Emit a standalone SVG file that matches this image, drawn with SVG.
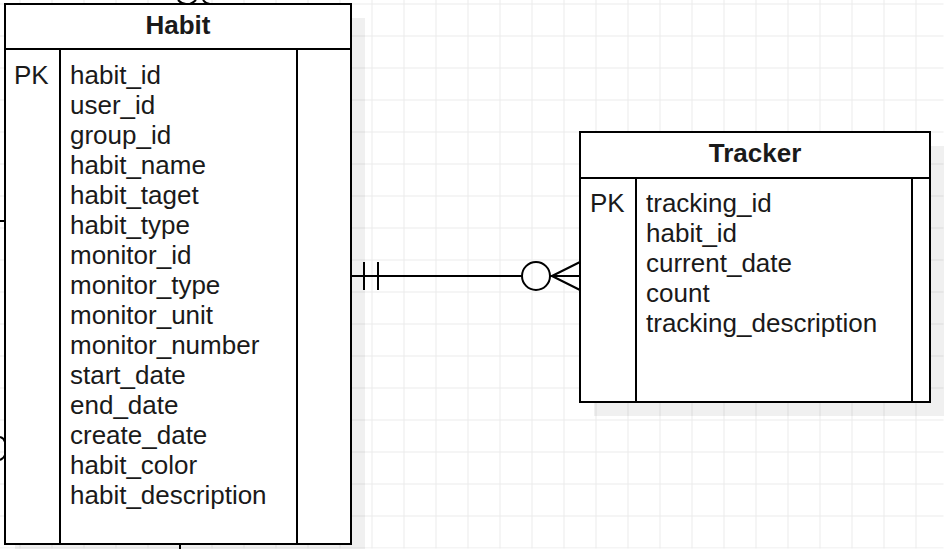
<svg xmlns="http://www.w3.org/2000/svg" width="944" height="549" viewBox="0 0 944 549">
<defs>
<pattern id="grid" x="20" y="4" width="32" height="32" patternUnits="userSpaceOnUse">
<path d="M0.5 0 V32 M0 0.5 H32" fill="none" stroke="#ebebeb" stroke-width="1"/>
</pattern>
</defs>
<style>
.box{fill:#fff;stroke:#000;stroke-width:2}
.ln{stroke:#000;stroke-width:2;fill:none}
.sh{fill:#000;fill-opacity:0.06}
.t{font-family:"Liberation Sans",Arial,sans-serif;font-size:26px;fill:#1a1a1a}
.h{font-family:"Liberation Sans",Arial,sans-serif;font-size:26px;font-weight:bold;fill:#1a1a1a}
</style>
<rect width="944" height="549" fill="#fff"/>
<rect x="0" y="0" width="944" height="549" fill="url(#grid)" transform="translate(-0.5,-0.5)"/>
<g id="edges">
<path class="ln" d="M0 221 H5"/>
<path class="ln" d="M0 437 Q4 438 5 442 M0 460 Q4 458 5 455"/>
<path class="ln" d="M180 544 V549"/>
<path class="ln" d="M178 0 Q182 4 186 4 M190 4 Q194 2 196 0 M203 0 Q206 4 210 4"/>
<path class="ln" d="M351 276 H522 M550 276 H580 M364 262 V290 M378 262 V290 M552 276 L580 262 M552 276 L580 290"/>
<circle class="ln" cx="536" cy="276" r="14" fill="#fff"/>
</g>
<g id="habit">
<rect class="sh" x="15" y="18" width="350" height="531"/>
<rect class="box" x="5" y="4" width="346" height="540"/>
<path class="ln" d="M5 49 H351 M60 49 V544 M297 49 V544"/>
<text class="h" x="178" y="34" text-anchor="middle">Habit</text>
<text class="t" x="14" y="84">PK</text>
<text class="t" x="70" y="84">habit_id</text>
<text class="t" x="70" y="114">user_id</text>
<text class="t" x="70" y="144">group_id</text>
<text class="t" x="70" y="174">habit_name</text>
<text class="t" x="70" y="204">habit_taget</text>
<text class="t" x="70" y="234">habit_type</text>
<text class="t" x="70" y="264">monitor_id</text>
<text class="t" x="70" y="294">monitor_type</text>
<text class="t" x="70" y="324">monitor_unit</text>
<text class="t" x="70" y="354">monitor_number</text>
<text class="t" x="70" y="384">start_date</text>
<text class="t" x="70" y="414">end_date</text>
<text class="t" x="70" y="444">create_date</text>
<text class="t" x="70" y="474">habit_color</text>
<text class="t" x="70" y="504">habit_description</text>
</g>
<g id="tracker">
<rect class="sh" x="594" y="146" width="350" height="270"/>
<rect class="box" x="580" y="132" width="350" height="270"/>
<path class="ln" d="M580 178 H930 M636 178 V402 M912 178 V402"/>
<text class="h" x="755" y="162" text-anchor="middle">Tracker</text>
<text class="t" x="590" y="212">PK</text>
<text class="t" x="646" y="212">tracking_id</text>
<text class="t" x="646" y="242">habit_id</text>
<text class="t" x="646" y="272">current_date</text>
<text class="t" x="646" y="302">count</text>
<text class="t" x="646" y="332">tracking_description</text>
</g>
</svg>
